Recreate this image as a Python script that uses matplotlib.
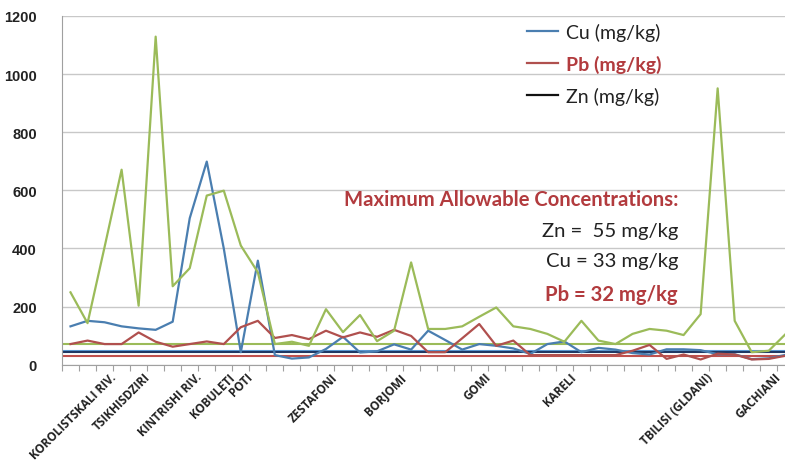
import numpy as np
import matplotlib
matplotlib.use("Agg")
import matplotlib.pyplot as plt
from matplotlib.lines import Line2D
from matplotlib.transforms import ScaledTranslation

# ---- data ----
cu = [132, 151, 146, 132, 125, 120, 148, 504, 699, 400, 43, 358, 33, 21, 25, 54,
      96, 42, 46, 70, 52, 117, 85, 52, 71, 65, 56, 37, 71, 80, 43, 58, 52, 40,
      35, 53, 53, 50, 36, 36, 19, 22, 34]
pb = [71, 83, 71, 71, 111, 79, 62, 71, 80, 71, 129, 151, 92, 102, 88, 117,
      94, 111, 96, 120, 99, 43, 43, 91, 140, 65, 83, 33, 33, 33, 33, 33, 33, 48,
      68, 20, 35, 18, 38, 35, 18, 20, 31]
zn = [249, 143, 405, 671, 203, 1129, 270, 332, 582, 599, 410, 318, 71, 79, 65, 191,
      112, 171, 81, 117, 352, 123, 123, 132, 165, 197, 132, 123, 106, 79, 151, 83,
      71, 106, 123, 117, 102, 174, 951, 151, 43, 48, 106]
# constant reference lines
ref_levels = [71, 48, 43, 31]
ref_colors = ['#9bbb59', '#5b9bd5', '#1f3864', '#c0504d']

site_labels = ['KOROLISTSKALI RIV.', 'TSIKHISDZIRI', 'KINTRISHI RIV.', 'KOBULETI',
               'POTI', 'ZESTAFONI', 'BORJOMI', 'GOMI', 'KARELI',
               'TBILISI (GLDANI)', 'GACHIANI']
site_index = [2, 4, 7, 9, 10, 15, 19, 24, 29, 37, 41]

yticks = [0, 200, 400, 600, 800, 1000, 1200]

mac_lines = ['Maximum Allowable Concentrations:', 'Zn =  55 mg/kg',
             'Cu = 33 mg/kg', 'Pb = 32 mg/kg']
legend_labels = ['Cu (mg/kg)', 'Pb (mg/kg)', 'Zn (mg/kg)']

# ---- figure ----
W, H = 785, 464
fig = plt.figure(figsize=(W / 100, H / 100), dpi=100)
n = len(cu)
x0, y0, ytop = 62, 365.7, 17
step = 17.03
ax = fig.add_axes([x0 / W, (H - y0) / H, (n * step) / W, (y0 - ytop) / H])

x = np.arange(n)
c_cu, c_pb, c_zn = '#4a7eb0', '#b0504e', '#9bbb59'
red_txt = '#b23b3e'

for lvl, col in zip(ref_levels, ref_colors):
    ax.axhline(lvl, color=col, lw=1.5, zorder=2)

ax.plot(x, cu, color=c_cu, lw=1.6, zorder=3)
ax.plot(x, pb, color=c_pb, lw=1.6, zorder=3)
ax.plot(x, zn, color=c_zn, lw=1.6, zorder=3)

ax.set_xlim(-0.5, n - 0.5)
ax.set_ylim(0, 1200)
ax.set_yticks(yticks)
ax.set_yticklabels([str(v) for v in yticks], fontfamily='Liberation Sans',
                   fontweight='bold', fontsize=10.5, color='#222222')
ax.tick_params(axis='y', length=0, pad=18)
ax.grid(axis='y', color='#c8c8c8', lw=1.0, zorder=0)
ax.set_axisbelow(True)

ax.set_xticks(site_index)
ax.set_xticklabels(site_labels, rotation=45, ha='right', va='top',
                   rotation_mode='anchor', fontfamily='Open Sans',
                   fontweight='bold', fontsize=8.5, color='#222222')
ax.set_xticks(np.arange(-0.5, n, 1), minor=True)
ax.tick_params(axis='x', which='major', length=0, pad=4)
ax.tick_params(axis='x', which='minor', length=4, color='#a0a0a0', width=0.8)
off = ScaledTranslation(5 / 100, 0, fig.dpi_scale_trans)
for lab in ax.get_xticklabels():
    lab.set_transform(lab.get_transform() + off)

for s in ['top', 'right']:
    ax.spines[s].set_visible(False)
for s in ['left', 'bottom']:
    ax.spines[s].set_color('#a0a0a0')
    ax.spines[s].set_linewidth(0.8)

# legend
handles = [Line2D([], [], color=c_cu, lw=1.6),
           Line2D([], [], color=c_pb, lw=1.6),
           Line2D([], [], color='#111111', lw=1.6)]
leg = fig.legend(handles, legend_labels, loc='upper left',
                 bbox_to_anchor=(509 / W, 1 - 6 / H), frameon=False,
                 prop={'family': 'Lato', 'size': 14}, handlelength=1.6,
                 handletextpad=0.45, labelspacing=0.72)
texts = leg.get_texts()
for t in texts:
    t.set_color('#222222')
texts[1].set_color(red_txt)
texts[1].set_fontweight('bold')

# MAC annotation
ys = [200, 232, 262, 295]
for i, (txt, yy) in enumerate(zip(mac_lines, ys)):
    bold = i in (0, 3)
    fig.text(678 / W, 1 - yy / H, txt, ha='right', va='center',
             fontfamily='Lato', fontsize=14.6,
             fontweight='bold' if bold else 'normal',
             color=red_txt if bold else '#222222')

fig.savefig('out.png', dpi=100)
